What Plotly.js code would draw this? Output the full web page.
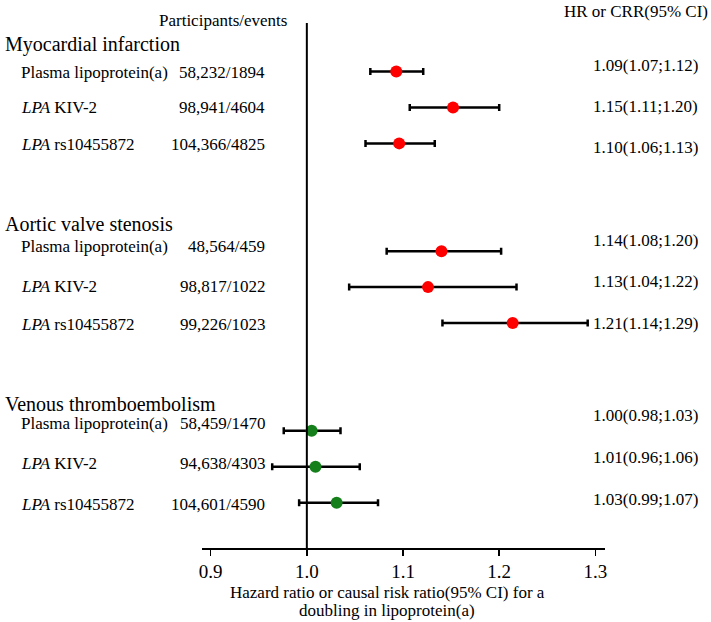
<!DOCTYPE html>
<html>
<head>
<meta charset="utf-8">
<script src="https://cdn.plot.ly/plotly-3.0.1.min.js"></script>
<style>
  html, body { margin: 0; padding: 0; background: #fff; }
  #forest { width: 711px; height: 622px; }
</style>
</head>
<body>
<div id="forest"></div>
<script>
/*  Forest plot: Lp(a) and MI / AVS / VTE  */

var outcomes = ['Myocardial infarction', 'Aortic valve stenosis', 'Venous thromboembolism'];
var exposures = ['Plasma lipoprotein(a)', '<i>LPA</i> KIV-2', '<i>LPA</i> rs10455872'];

var participants = ['58,232/1894', '98,941/4604', '104,366/4825',
                    '48,564/459', '98,817/1022', '99,226/1023',
                    '58,459/1470', '94,638/4303', '104,601/4590'];

// values as drawn in the picture
var estimate = [1.093, 1.152, 1.096, 1.140, 1.126, 1.214, 1.005, 1.009, 1.031];
var lower    = [1.066, 1.107, 1.061, 1.083, 1.044, 1.141, 0.976, 0.964, 0.992];
var upper    = [1.121, 1.200, 1.133, 1.202, 1.218, 1.292, 1.035, 1.055, 1.074];

var ciText = ['1.09(1.07;1.12)', '1.15(1.11;1.20)', '1.10(1.06;1.13)',
              '1.14(1.08;1.20)', '1.13(1.04;1.22)', '1.21(1.14;1.29)',
              '1.00(0.98;1.03)', '1.01(0.96;1.06)', '1.03(0.99;1.07)'];

var xTicks = [0.9, 1.0, 1.1, 1.2, 1.3];
var xTitle = ['Hazard ratio or causal risk ratio(95% CI) for a', 'doubling in lipoprotein(a)'];

// layout bits (pixel nudges of the text, as in the original figure)
var leftShift  = [-1, 0, -1, 5, 1, -1, 7, 3, -2];
var rightShift = [6, 1, -4, 11, 6, 0, 15, 9, 3];
var groupGap = 5;
var FONT = 'Liberation Serif, Times New Roman, serif';
var plotLeft = 202, plotWidth = 403;

function px2paper(px) { return (px - plotLeft) / plotWidth; }

var rows = [], colors = [];
for (var i = 0; i < estimate.length; i++) {
    var g = Math.floor(i / 3);
    rows.push(g * groupGap + (i % 3));
    colors.push(g == 2 ? '#157f1c' : '#ff0000');
}

var errPlus = [], errMinus = [];
for (var i = 0; i < estimate.length; i++) {
    errPlus.push(upper[i] - estimate[i]);
    errMinus.push(estimate[i] - lower[i]);
}

var trace = {
    x: estimate,
    y: rows,
    type: 'scatter',
    mode: 'markers',
    marker: {color: colors, size: 12},
    error_x: {
        type: 'data', symmetric: false,
        array: errPlus, arrayminus: errMinus,
        color: '#000', thickness: 2.5, width: 3.5
    },
    cliponaxis: false,
    hoverinfo: 'x+y'
};

var annotations = [];
// group headings
for (var g = 0; g < outcomes.length; g++) {
    annotations.push({
        text: outcomes[g], xref: 'paper', yref: 'y',
        x: px2paper(3), y: g * groupGap - 0.75,
        xanchor: 'left', yanchor: 'middle', showarrow: false,
        font: {family: FONT, size: 20, color: '#000'}
    });
}
// row labels, counts and estimates
for (var i = 0; i < estimate.length; i++) {
    annotations.push({
        text: exposures[i % 3], xref: 'paper', yref: 'y',
        x: px2paper(19), y: rows[i], yshift: leftShift[i],
        xanchor: 'left', yanchor: 'middle', showarrow: false,
        font: {family: FONT, size: 17, color: '#000'}
    });
    annotations.push({
        text: participants[i], xref: 'paper', yref: 'y',
        x: px2paper(267), y: rows[i], yshift: leftShift[i],
        xanchor: 'right', yanchor: 'middle', showarrow: false,
        font: {family: FONT, size: 17, color: '#000'}
    });
    annotations.push({
        text: ciText[i], xref: 'paper', yref: 'y',
        x: px2paper(591), y: rows[i], yshift: rightShift[i],
        xanchor: 'left', yanchor: 'middle', showarrow: false,
        font: {family: FONT, size: 17, color: '#000'}
    });
}
// column headers
annotations.push({
    text: 'Participants/events', xref: 'paper', yref: 'paper',
    x: px2paper(223), y: 1, yshift: 3,
    xanchor: 'center', yanchor: 'middle', showarrow: false,
    font: {family: FONT, size: 17, color: '#000'}
});
annotations.push({
    text: 'HR or CRR(95% CI)', xref: 'paper', yref: 'paper',
    x: px2paper(636), y: 1, yshift: 12,
    xanchor: 'center', yanchor: 'middle', showarrow: false,
    font: {family: FONT, size: 17, color: '#000'}
});
// x axis title, two lines
annotations.push({
    text: xTitle[0], xref: 'paper', yref: 'paper',
    x: px2paper(387), y: 0, yshift: -44,
    xanchor: 'center', yanchor: 'middle', showarrow: false,
    font: {family: FONT, size: 17, color: '#000'}
});
annotations.push({
    text: xTitle[1], xref: 'paper', yref: 'paper',
    x: px2paper(387), y: 0, yshift: -62,
    xanchor: 'center', yanchor: 'middle', showarrow: false,
    font: {family: FONT, size: 17, color: '#000'}
});

var layout = {
    width: 711, height: 622,
    margin: {l: plotLeft, r: 711 - plotLeft - plotWidth, t: 23, b: 74},
    paper_bgcolor: '#fff', plot_bgcolor: '#fff',
    showlegend: false,
    font: {family: FONT, color: '#000'},
    xaxis: {
        range: [0.891, 1.31],
        tickvals: xTicks, tickformat: '.1f',
        showgrid: false, zeroline: false,
        showline: true, linecolor: '#000', linewidth: 1.5,
        ticks: 'outside', ticklen: 6, tickwidth: 1.5, tickcolor: '#000',
        tickfont: {family: FONT, size: 19, color: '#000'},
        fixedrange: true
    },
    yaxis: {
        range: [13.26, -1.35],
        visible: false, showgrid: false, zeroline: false,
        fixedrange: true
    },
    shapes: [{
        type: 'line', xref: 'x', yref: 'paper',
        x0: 1.0, x1: 1.0, y0: 0, y1: 1,
        line: {color: '#000', width: 2}
    }],
    annotations: annotations
};

var config = {responsive: false, displayModeBar: false, staticPlot: true};

Plotly.newPlot('forest', [trace], layout, config);
</script>
</body>
</html>
